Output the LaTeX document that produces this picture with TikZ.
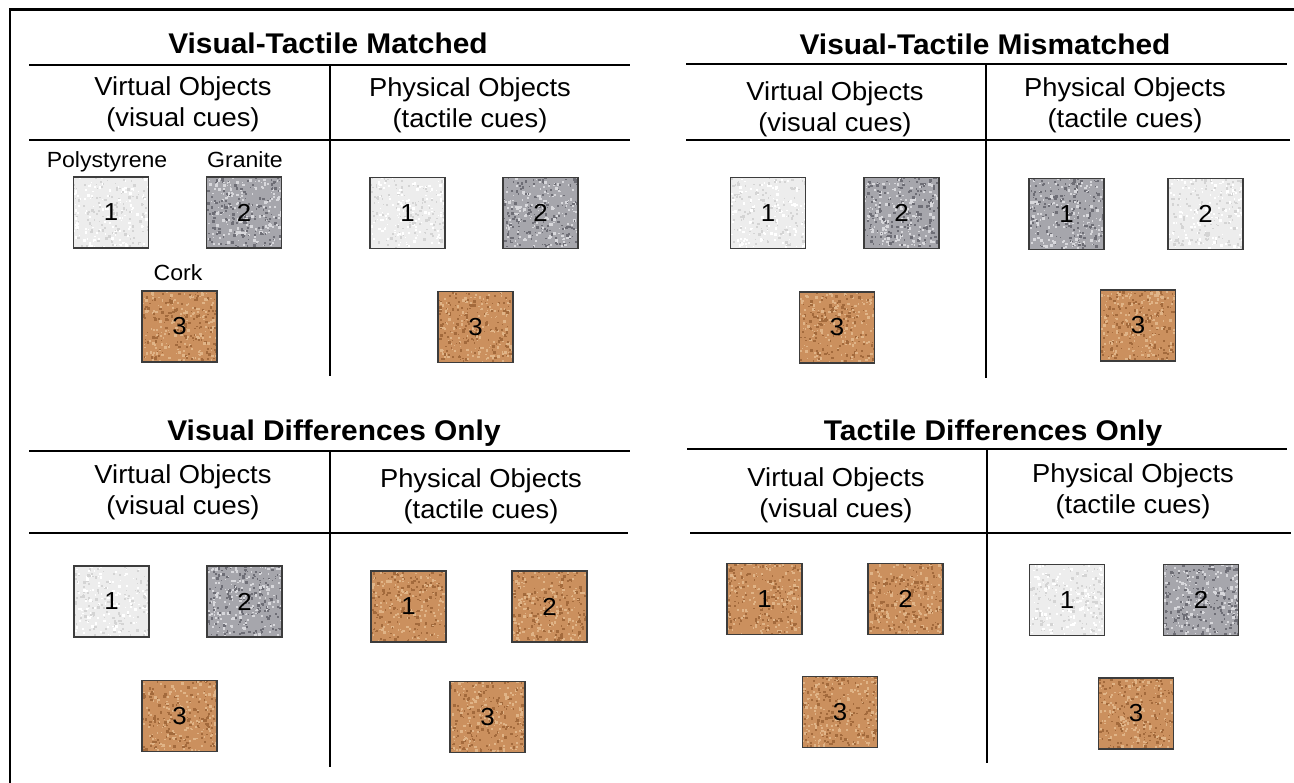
\documentclass[tikz,border=0pt]{standalone}
\usepackage{fontspec}
\setmainfont{Liberation Sans}[FakeStretch=1.05]
\usetikzlibrary{positioning}

\definecolor{boxedge}{HTML}{3C3C3C}
\definecolor{polybase}{HTML}{EDEDED}
\definecolor{polydark}{HTML}{D4D4D4}
\definecolor{granbase}{HTML}{A6A6AC}
\definecolor{grandark}{HTML}{6E6E76}
\definecolor{granlight}{HTML}{D8D8DC}
\definecolor{corkbase}{HTML}{CB905E}
\definecolor{corkdark}{HTML}{A36A3C}
\definecolor{corklight}{HTML}{E0B487}

\newcommand{\speckle}[3]{%
  \foreach \k in {1,...,#3}{%
    \pgfmathsetmacro\px{rnd*42.7}\pgfmathsetmacro\py{rnd*40.4}\pgfmathsetmacro\pr{0.6+1.0*rnd}%
    \fill[#1] ([xshift=\px pt,yshift=\py pt]path picture bounding box.south west) rectangle ++(\pr pt,\pr pt);
    \pgfmathsetmacro\px{rnd*42.7}\pgfmathsetmacro\py{rnd*40.4}\pgfmathsetmacro\pr{0.6+1.0*rnd}%
    \fill[#2] ([xshift=\px pt,yshift=\py pt]path picture bounding box.south west) rectangle ++(\pr pt,\pr pt);
  }}

\begin{document}
\begin{tikzpicture}[x=0.02cm,y=-0.02cm,
  ttl/.style={font=\fontsize{16.2}{19}\selectfont\bfseries, anchor=base},
  hdr/.style={font=\fontsize{14.8}{17.8}\selectfont, align=center},
  lbl/.style={font=\fontsize{12.5}{14}\selectfont, anchor=base},
  sep/.style={line width=1.1pt},
  matbox/.style={draw=boxedge, line width=0.8pt, minimum width=1.5cm, minimum height=1.42cm, inner sep=0pt, font=\fontsize{14}{16}\selectfont},
  polyst/.style={matbox, fill=polybase, path picture={\speckle{polydark}{white}{130}}},
  granite/.style={matbox, fill=granbase, path picture={\speckle{grandark}{granlight}{170}}},
  cork/.style={matbox, fill=corkbase, path picture={\speckle{corkdark}{corklight}{160}}}]
\pgfmathsetseed{11}
\useasboundingbox (0,0) rectangle (1294,783);
\draw[line width=1.7pt] (10,800) -- (10,9.5) -- (1310,9.5);

\node[ttl] (tlT) at (328,54) {Visual-Tactile Matched};
\draw[sep] (29,65) -- (630,65) (330,65) -- (330,376) (29,140) -- (630,140);
\node[hdr] (tlV) at (183,104) {Virtual Objects\\(visual cues)};
\node[hdr] (tlP) at (470,105) {Physical Objects\\(tactile cues)};
\node[lbl] (lpoly) at (107,168) {Polystyrene};
\node[lbl] (lgran) at (245,168) {Granite};
\node[lbl] (lcork) at (178,281) {Cork};
\node[polyst] (tlv1) at (111,212.5) {1};
\node[granite] (tlv2) at (244,212.5) {2};
\node[cork] (tlv3) at (179.5,326.5) {3};
\node[polyst] (tlp1) at (407.5,213) {1};
\node[granite] (tlp2) at (540.5,213) {2};
\node[cork] (tlp3) at (475.5,327) {3};

\node[ttl] (trT) at (985,55) {Visual-Tactile Mismatched};
\draw[sep] (686,64) -- (1287,64) (986,64) -- (986,378) (686,140) -- (1290,140);
\node[hdr] (trV) at (835,109) {Virtual Objects\\(visual cues)};
\node[hdr] (trP) at (1125,105) {Physical Objects\\(tactile cues)};
\node[polyst] (trv1) at (768,213) {1};
\node[granite] (trv2) at (901.5,213) {2};
\node[cork] (trv3) at (837,327.5) {3};
\node[granite] (trp1) at (1066.5,214) {1};
\node[polyst] (trp2) at (1205.5,214) {2};
\node[cork] (trp3) at (1138,325.5) {3};

\node[ttl] (blT) at (334,440) {Visual Differences Only};
\draw[sep] (29,451) -- (630,451) (330,451) -- (330,767) (29,533) -- (628,533);
\node[hdr] (blV) at (183,492) {Virtual Objects\\(visual cues)};
\node[hdr] (blP) at (481,496) {Physical Objects\\(tactile cues)};
\node[polyst] (blv1) at (111.5,601.5) {1};
\node[granite] (blv2) at (244.5,601.5) {2};
\node[cork] (blv3) at (179.5,716) {3};
\node[cork] (blp1) at (408.5,606.5) {1};
\node[cork] (blp2) at (549.5,606.5) {2};
\node[cork] (blp3) at (487.5,717) {3};

\node[ttl] (brT) at (993,440) {Tactile Differences Only};
\draw[sep] (687,449) -- (1287,449) (987,449) -- (987,763) (690,533) -- (1291,533);
\node[hdr] (brV) at (836,495) {Virtual Objects\\(visual cues)};
\node[hdr] (brP) at (1133,491) {Physical Objects\\(tactile cues)};
\node[cork] (brv1) at (764.5,599) {1};
\node[cork] (brv2) at (905.5,599) {2};
\node[cork] (brv3) at (840,712) {3};
\node[polyst] (brp1) at (1067,600) {1};
\node[granite] (brp2) at (1201,600) {2};
\node[cork] (brp3) at (1136,713.5) {3};
\end{tikzpicture}
\end{document}
